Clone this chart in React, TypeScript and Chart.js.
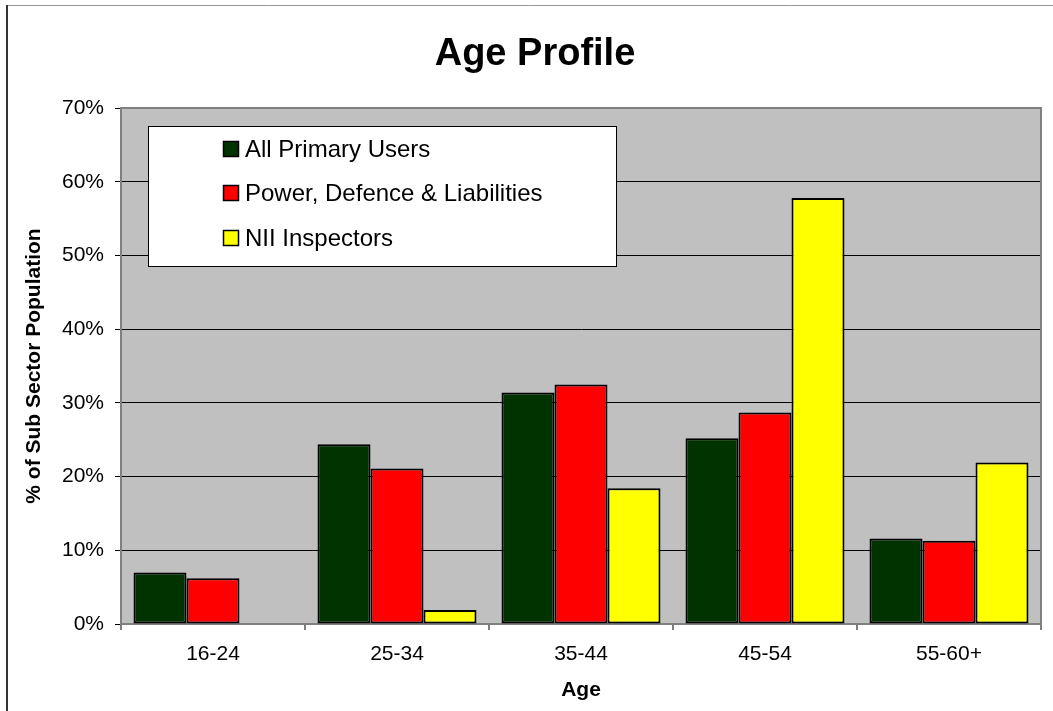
import React, { useEffect, useRef } from "react";
import { Chart, registerables } from "chart.js";

Chart.register(...registerables);

const categories = ["16-24", "25-34", "35-44", "45-54", "55-60+"];
const allPrimaryUsers = [7.0, 24.4, 31.4, 25.2, 11.6];
const powerDefence = [6.2, 21.1, 32.5, 28.7, 11.3];
const niiInspectors = [0, 1.9, 18.4, 57.8, 21.9];
const seriesNames = ["All Primary Users", "Power, Defence & Liabilities", "NII Inspectors"];
const seriesColors = ["#003300", "#FF0000", "#FFFF00"];
const chartTitle = "Age Profile";
const yTitle = "% of Sub Sector Population";
const xTitle = "Age";

const FONT = "'Liberation Sans', Arial, sans-serif";

const framePlugin = {
  id: "framePlugin",
  beforeDraw(chart: any) {
    const { ctx, chartArea } = chart;
    ctx.save();
    ctx.fillStyle = "#ffffff";
    ctx.fillRect(0, 0, chart.width, chart.height);
    ctx.fillStyle = "#C0C0C0";
    ctx.fillRect(chartArea.left, chartArea.top, chartArea.right - chartArea.left, chartArea.bottom - chartArea.top);
    // outer border
    ctx.strokeStyle = "#999999";
    ctx.lineWidth = 1;
    ctx.beginPath();
    ctx.moveTo(6, 5.5);
    ctx.lineTo(chart.width, 5.5);
    ctx.stroke();
    ctx.strokeStyle = "#333333";
    ctx.lineWidth = 2;
    ctx.beginPath();
    ctx.moveTo(7, 5);
    ctx.lineTo(7, chart.height);
    ctx.stroke();
    // title
    ctx.fillStyle = "#000";
    ctx.font = `bold 38px ${FONT}`;
    ctx.textAlign = "center";
    ctx.textBaseline = "middle";
    ctx.fillText(chartTitle, 535, 55);
    ctx.restore();
  },
  beforeDatasetsDraw(chart: any) {
    const { ctx, chartArea } = chart;
    ctx.save();
    ctx.strokeStyle = "#808080";
    ctx.lineWidth = 2;
    ctx.beginPath();
    ctx.moveTo(chartArea.left, chartArea.top);
    ctx.lineTo(chartArea.right, chartArea.top);
    ctx.lineTo(chartArea.right, chartArea.bottom + 6);
    ctx.stroke();
    ctx.restore();
  },
  afterDraw(chart: any) {
    const { ctx } = chart;
    const x0 = 148.5, y0 = 126.5, w = 468, h = 140;
    ctx.save();
    ctx.fillStyle = "#ffffff";
    ctx.fillRect(x0, y0, w, h);
    ctx.strokeStyle = "#000";
    ctx.lineWidth = 1;
    ctx.strokeRect(x0, y0, w, h);
    ctx.font = `24px ${FONT}`;
    ctx.textAlign = "left";
    ctx.textBaseline = "middle";
    const rows = [149, 193, 238];
    chart.data.datasets.forEach((ds: any, i: number) => {
      const cy = rows[i];
      ctx.fillStyle = ds.backgroundColor;
      ctx.fillRect(223.5, cy - 7.5, 15, 15);
      ctx.lineWidth = 1.5;
      ctx.strokeStyle = "#000";
      ctx.strokeRect(223.5, cy - 7.5, 15, 15);
      ctx.fillStyle = "#000";
      ctx.fillText(ds.label, 245, cy + 1);
    });
    ctx.restore();
  },
};

export default function App() {
  const ref = useRef<HTMLCanvasElement | null>(null);
  useEffect(() => {
    document.body.style.margin = "0";
    const canvas = ref.current;
    if (!canvas) return;
    const data = [allPrimaryUsers, powerDefence, niiInspectors];
    const chart = new Chart(canvas, {
      type: "bar",
      data: {
        labels: categories,
        datasets: data.map((d, i) => ({
          label: seriesNames[i],
          data: d,
          backgroundColor: seriesColors[i],
          borderColor: "#000000",
          borderWidth: 2,
          borderSkipped: false,
          categoryPercentage: 0.864,
          barPercentage: 1,
        })),
      },
      options: {
        animation: false,
        responsive: false,
        devicePixelRatio: 1,
        layout: { padding: { top: 108, right: 12, left: 0, bottom: 0 } },
        plugins: {
          legend: { display: false },
          title: { display: false },
          tooltip: { enabled: false },
        },
        scales: {
          x: {
            type: "category",
            offset: true,
            grid: {
              offset: true,
              drawOnChartArea: false,
              drawTicks: true,
              tickLength: 6,
              color: "#808080",
              lineWidth: 2,
            },
            border: { display: true, color: "#808080", width: 2 },
            ticks: { font: { family: FONT, size: 21 }, color: "#000", padding: 12 },
            title: {
              display: true,
              text: xTitle,
              font: { family: FONT, size: 21, weight: "bold" },
              color: "#000",
              padding: { top: 0, bottom: 8 },
            },
            afterFit: (s: any) => {
              s.height = 87;
            },
          },
          y: {
            min: 0,
            max: 70,
            ticks: {
              stepSize: 10,
              font: { family: FONT, size: 21 },
              color: "#000",
              padding: 11,
              callback: (v: any) => v + "%",
            },
            grid: {
              color: (c: any) =>
                c.tick && (c.tick.value === 0 || c.tick.value === 70) ? "#808080" : "#000000",
              tickColor: "#000000",
              lineWidth: 1,
              tickLength: 6,
            },
            border: { display: true, color: "#808080", width: 2 },
            title: {
              display: true,
              text: yTitle,
              font: { family: FONT, size: 21, weight: "bold" },
              color: "#000",
              padding: { top: 22, bottom: 0 },
            },
            afterFit: (s: any) => {
              s.width = 121;
            },
          },
        },
      },
      plugins: [framePlugin],
    } as any);
    return () => chart.destroy();
  }, []);
  return (
    <div style={{ width: 1053, height: 711 }}>
      <canvas ref={ref} width={1053} height={711} style={{ display: "block" }} />
    </div>
  );
}
